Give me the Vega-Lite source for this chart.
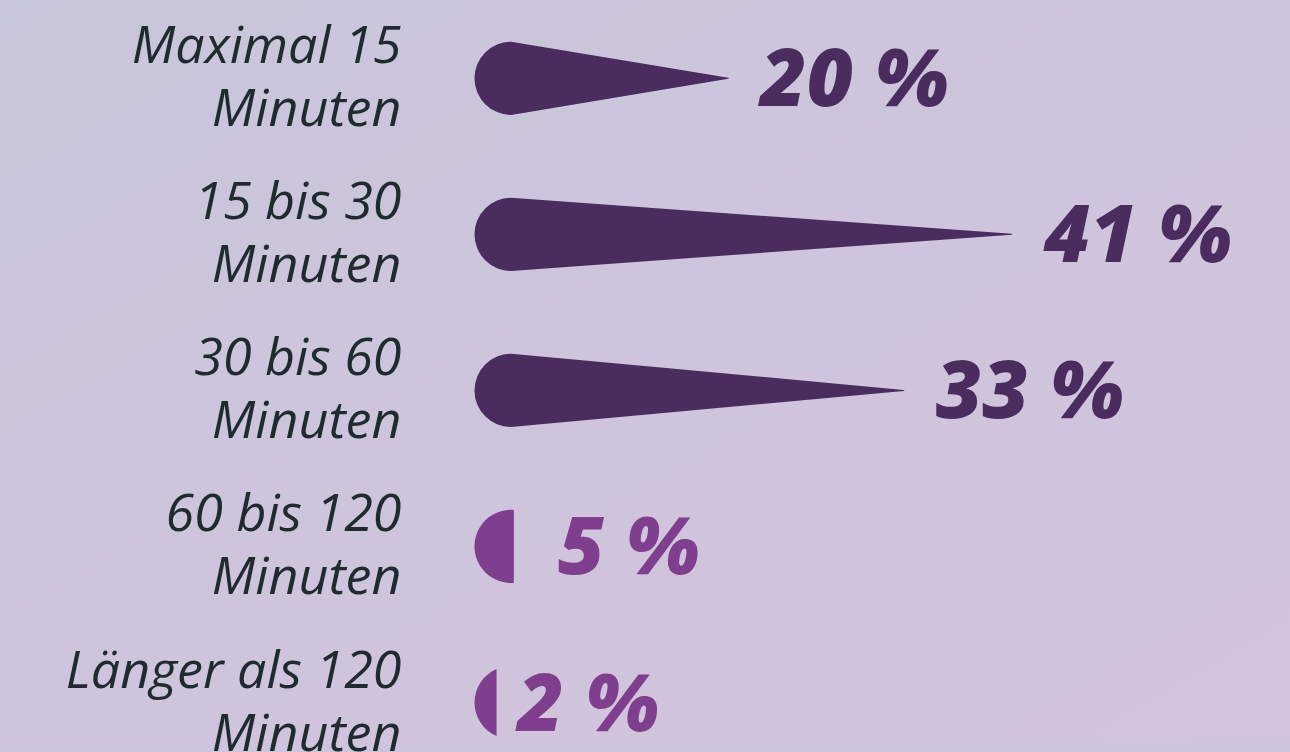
{
  "$schema": "https://vega.github.io/schema/vega-lite/v6.json",
  "width": 1290,
  "height": 752,
  "autosize": {"type": "fit", "contains": "padding"},
  "padding": 0,
  "background": "#ccc5db",
  "config": {
    "view": {"stroke": null},
    "locale": {
      "number": {"decimal": ",", "thousands": ".", "grouping": [3], "currency": ["", " €"], "percent": " %"}
    }
  },
  "datasets": {
    "rows": [
      {"label": "Maximal 15\nMinuten", "start": 0.039, "pct": 0.20},
      {"label": "15 bis 30\nMinuten", "start": 0.039, "pct": 0.41},
      {"label": "30 bis 60\nMinuten", "start": 0.039, "pct": 0.33},
      {"label": "60 bis 120\nMinuten", "start": 0.039, "pct": 0.05},
      {"label": "Länger als 120\nMinuten", "start": 0.039, "pct": 0.02}
    ]
  },
  "layer": [
    {
      "data": {"values": [{}]},
      "mark": {
        "type": "rect",
        "fill": {
          "gradient": "linear", "x1": 0, "y1": 0, "x2": 1, "y2": 1,
          "stops": [{"offset": 0, "color": "#c8c6da"}, {"offset": 1, "color": "#d4c3dd"}]
        }
      },
      "encoding": {}
    },
    {
      "data": {"name": "rows"},
      "transform": [
        {"filter": "datum.pct >= 0.1"},
        {"fold": ["start", "pct"], "as": ["k", "v"]}
      ],
      "mark": {"type": "trail", "color": "#4a2c5e"},
      "encoding": {
        "x": {"field": "v", "type": "quantitative", "axis": null,
              "scale": {"domain": [-0.3397, 0.6162], "nice": false, "zero": false}},
        "y": {"field": "label", "type": "nominal", "axis": null,
              "scale": {"type": "point", "domain": ["Maximal 15\nMinuten", "15 bis 30\nMinuten", "30 bis 60\nMinuten", "60 bis 120\nMinuten", "Länger als 120\nMinuten"], "range": [78.3, 702.5], "padding": 0}},
        "detail": {"field": "label", "type": "nominal"},
        "size": {"condition": {"test": "datum.k === 'start'", "value": 73.2}, "value": 0}
      }
    },
    {
      "data": {"name": "rows"},
      "transform": [{"filter": "datum.pct < 0.1"}],
      "mark": {"type": "point", "filled": true, "size": 5358, "color": "#7f3f8e", "opacity": 1, "strokeWidth": 0},
      "encoding": {
        "x": {"datum": 0.039, "type": "quantitative"},
        "y": {"field": "label", "type": "nominal", "axis": null},
        "shape": {"field": "label", "type": "nominal", "legend": null,
                  "scale": {"domain": ["60 bis 120\nMinuten", "Länger als 120\nMinuten"],
                            "range": ["M 0.077 -0.997 A 1 1 0 1 0 0.077 0.997 Z", "M -0.396 -0.918 A 1 1 0 0 0 -0.396 0.918 Z"]}}
      }
    },
    {
      "data": {"name": "rows"},
      "mark": {"type": "text", "align": "left", "baseline": "middle", "dx": 32, "dy": 4,
               "font": "Open Sans", "fontWeight": 800, "fontStyle": "italic", "fontSize": 80},
      "encoding": {
        "x": {"field": "pct", "type": "quantitative"},
        "y": {"field": "label", "type": "nominal", "axis": null},
        "text": {"field": "pct", "type": "quantitative", "format": ".0%"},
        "color": {"condition": {"test": "datum.pct >= 0.1", "value": "#4a2c5e"}, "value": "#7f3f8e"}
      }
    },
    {
      "data": {"name": "rows"},
      "mark": {"type": "text", "align": "right", "baseline": "middle", "dx": -57, "dy": -31,
               "lineBreak": "\n", "lineHeight": 63,
               "font": "Open Sans", "fontStyle": "italic", "fontSize": 52, "color": "#1f2b2e"},
      "encoding": {
        "x": {"datum": 0, "type": "quantitative"},
        "y": {"field": "label", "type": "nominal", "axis": null},
        "text": {"field": "label", "type": "nominal"}
      }
    }
  ]
}
